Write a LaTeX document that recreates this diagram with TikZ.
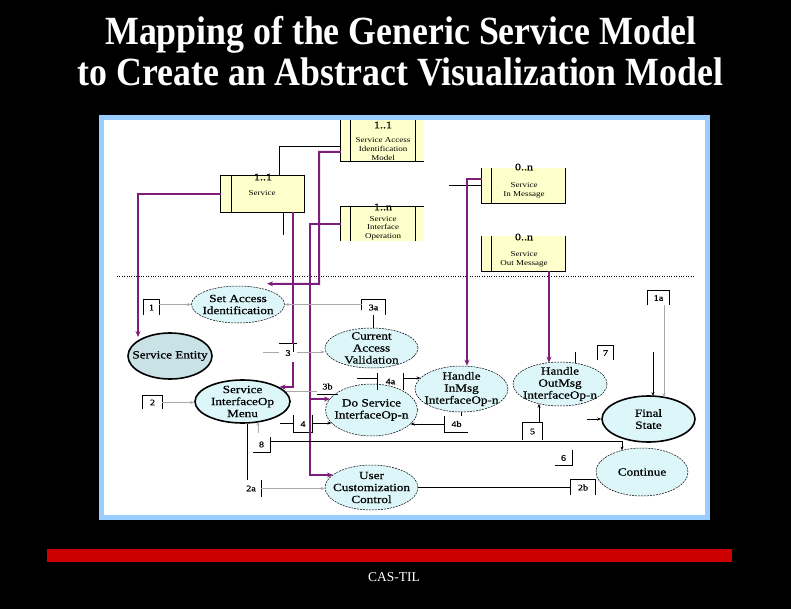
\documentclass[tikz,border=0pt]{standalone}
\usepackage{fontspec}
\setmainfont{Liberation Serif}
\newfontfamily\diafont[FakeStretch=1.2,FakeBold=0.7]{Liberation Serif}
\newfontfamily\boxfont[FakeStretch=1.2]{Liberation Serif}
\newfontfamily\titlefont[FakeStretch=0.895]{Liberation Serif}
\usetikzlibrary{positioning,calc,arrows.meta,shapes.geometric}
\definecolor{panelblue}{HTML}{99CCFF}
\definecolor{boxyellow}{HTML}{FFFFCC}
\definecolor{statecyan}{HTML}{DDF6F9}
\definecolor{entitycyan}{HTML}{C8E2E6}
\definecolor{mapviolet}{HTML}{7D1E7D}
\definecolor{transgray}{HTML}{A8A8A8}
\definecolor{barred}{HTML}{CC0000}
\tikzset{
  vstate/.style={ellipse, draw, dash pattern=on 2pt off 1pt, line width=0.5pt, fill=statecyan,
    inner xsep=-14pt, inner ysep=-5pt, align=center, font=\diafont\fontsize{11}{12}\selectfont},
  bigstate/.style={vstate, solid, line width=1.6pt},
  classbox/.style={rectangle, fill=boxyellow, inner sep=0pt},
  boxtext/.style={align=center, inner sep=0pt, font=\boxfont\fontsize{7.5}{8.6}\selectfont},
  mult/.style={inner sep=0pt, font=\diafont\fontsize{10}{10}\selectfont},
  tlabel/.style={inner sep=0pt, font=\diafont\fontsize{8.5}{9}\selectfont},
  link/.style={line width=0.7pt},
  grayarr/.style={transgray, line width=0.7pt, -{Stealth[length=4pt,width=3pt]}},
  blackarr/.style={line width=0.7pt, -{Stealth[length=4pt,width=3pt]}},
  maplink/.style={mapviolet, line width=2pt},
  maparr/.style={maplink, -{Stealth[length=6pt,width=5pt]}},
}
\begin{document}
\begin{tikzpicture}[x=1pt,y=-1pt]
  \useasboundingbox (0,0) rectangle (791,609);
  \fill[black] (0,0) rectangle (791,609);
  \fill[white] (99,115) rectangle (710,520);

  % title
  \node[text=white, anchor=base, font=\titlefont\bfseries\fontsize{40}{40}\selectfont] (title1) at (401,45) {Mapping of the Generic Service Model};
  \node[text=white, anchor=base, font=\titlefont\bfseries\fontsize{40}{40}\selectfont] (title2) at (400.5,86) {to Create an Abstract Visualization Model};

  % model boxes
  \node[classbox, minimum width=83, minimum height=43] (saim) at (382.5,139.5) {};
  \node[classbox, minimum width=83, minimum height=36] (svc) at (262.5,194) {};
  \node[classbox, minimum width=83, minimum height=34] (sio) at (382.5,224) {};
  \node[classbox, minimum width=83, minimum height=35] (sim) at (523.5,185.5) {};
  \node[classbox, minimum width=83, minimum height=35] (som) at (523.5,253.5) {};
  \draw[link] (saim.north west) -- (saim.south west) -- (saim.south east);
  \draw[link] ([xshift=10pt]saim.north west) -- ([xshift=10pt]saim.south west);
  \draw[link] ([xshift=-9pt]saim.north east) -- ([xshift=-9pt]saim.south east);
  \draw[link] (svc.north west) rectangle (svc.south east);
  \draw[link] ([xshift=11pt]svc.north west) -- ([xshift=11pt]svc.south west);
  \draw[link] (sio.south west) -- (sio.north west) -- (sio.north east);
  \draw[link] ([xshift=10pt]sio.north west) -- ([xshift=10pt]sio.south west);
  \draw[link] ([xshift=-9pt]sio.north east) -- ([xshift=-9pt]sio.south east);
  \draw[link] (sim.north west) -- (sim.south west) -- (sim.south east) -- (sim.north east);
  \draw[link] ([xshift=10pt]sim.north west) -- ([xshift=10pt]sim.south west);
  \draw[link] (som.north west) -- (som.south west) -- (som.south east) -- (som.north east);
  \draw[link] ([xshift=10pt]som.north west) -- ([xshift=10pt]som.south west);
  \node[boxtext] (saimtxt) at (383,149) {Service Access\\Identification\\Model};
  \node[boxtext] (svctxt) at (262,193) {Service};
  \node[boxtext] (siotxt) at (383,228) {Service\\Interface\\Operation};
  \node[boxtext] (simtxt) at (524,190.5) {Service\\In Message};
  \node[boxtext] (somtxt) at (524,259.5) {Service\\Out Message};
  \node[mult] (saimmult) at (383,125) {1..1};
  \node[mult] (svcmult) at (263,177) {1..1};
  \node[mult] (siomult) at (383,207) {1..n};
  \node[mult] (simmult) at (524,167) {0..n};
  \node[mult] (sommult) at (524,237) {0..n};

  \draw[dash pattern=on 0.8pt off 1.6pt, line width=0.8pt] (117,276) -- (695,276);

  % states
  \node[vstate, minimum width=93, minimum height=37] (sai) at (238,304.5) {Set Access\\Identification};
  \node[bigstate, fill=entitycyan, minimum width=84, minimum height=46] (ent) at (170,356) {Service Entity};
  \node[vstate, minimum width=93, minimum height=40] (cav) at (371.5,348) {Current\\Access\\Validation};
  \node[bigstate, minimum width=95, minimum height=43] (menu) at (242.5,401.5) {Service\\InterfaceOp\\Menu};
  \node[vstate, minimum width=92, minimum height=52] (dos) at (371.5,410) {Do Service\\InterfaceOp-n};
  \node[vstate, minimum width=93, minimum height=46] (hin) at (461.5,389) {Handle\\InMsg\\InterfaceOp-n};
  \node[vstate, minimum width=94, minimum height=44] (hout) at (560,384) {Handle\\OutMsg\\InterfaceOp-n};
  \node[bigstate, minimum width=93, minimum height=46] (fin) at (648.5,419) {Final\\State};
  \node[vstate, minimum width=92, minimum height=48] (cont) at (642,472) {Continue};
  \node[vstate, minimum width=93, minimum height=45] (ucc) at (371.5,487.5) {User\\Customization\\Control};

  % transition labels
  \node[tlabel, minimum width=15, minimum height=15] (l1) at (151.5,307.5) {1};
  \node[tlabel, minimum width=21, minimum height=14] (l1a) at (658.5,298) {1a};
  \node[tlabel, minimum width=19, minimum height=13] (l2) at (152.5,402.5) {2};
  \node[tlabel, minimum width=20, minimum height=17] (l2a) at (251,488.5) {2a};
  \node[tlabel, minimum width=24, minimum height=15] (l2b) at (583,487.5) {2b};
  \node[tlabel, minimum width=18, minimum height=18] (l3) at (288,353) {3};
  \node[tlabel, minimum width=23, minimum height=15] (l3a) at (373.5,307.5) {3a};
  \node[tlabel, minimum width=21, minimum height=15] (l3b) at (327.5,386.5) {3b};
  \node[tlabel, minimum width=18, minimum height=17] (l4) at (303,424) {4};
  \node[tlabel, minimum width=25, minimum height=17] (l4a) at (390.5,381.5) {4a};
  \node[tlabel, minimum width=23, minimum height=16] (l4b) at (456.5,424) {4b};
  \node[tlabel, minimum width=19, minimum height=17] (l5) at (532.5,431.5) {5};
  \node[tlabel, minimum width=17, minimum height=15] (l6) at (563.5,458) {6};
  \node[tlabel, minimum width=15, minimum height=14] (l7) at (605.5,353) {7};
  \node[tlabel, minimum width=17, minimum height=15] (l8) at (261.5,444.5) {8};
  \draw[link] (l1.south west) |- (l1.north east) -- (l1.south east);
  \draw[link] (l1a.south west) |- (l1a.north east) -- (l1a.south east);
  \draw[link] (l2.south west) |- (l2.north east) -- (l2.south east);
  \draw[link] (l2a.north east) -- (l2a.south east);
  \draw[link] (l2b.south west) |- (l2b.north east) -- (l2b.south east);
  \draw[link] (l3.north west) -- (l3.north east);
  \draw[link] ($(l3a.west)+(0,2.5)$) |- (l3a.north east) -- (l3a.south east);
  \draw[link] (l3b.south west) -- (l3b.south east);
  \draw[link] (l4.north west) -- (l4.south west) -- (l4.south east) -- (l4.north east);
  \draw[link] (l4a.north west) -- (l4a.south west);
  \draw[link] (l4a.north east) -- (l4a.south east);
  \draw[link] (l4b.north west) -- (l4b.south west) -- (l4b.south east);
  \draw[link] (l5.south west) |- (l5.north east) -- (l5.south east);
  \draw[link] (l6.north east) -- (l6.south east) -- (l6.south west);
  \draw[link] (l7.south west) |- (l7.north east) -- (l7.south east);
  \draw[link] (l8.north east) -- (l8.south east) -- (l8.south west);

  % free ends and bends
  \coordinate (svcdn) at ($(svc.south)+(30.5,0)$);
  \coordinate (p3) at (319,284);
  \coordinate (p4) at (310,475);
  \coordinate (p5) at (310,399);
  \coordinate (somdn) at ($(som.south)+(25.5,0)$);
  \coordinate (simin) at (449,185.5);
  \coordinate (l3in) at (263,352);
  \coordinate (l4in) at (280,423);
  \coordinate (l4ain) at (357,378);
  \coordinate (menu3b) at ($(menu.center)+(43,-10)$);
  \coordinate (menudn) at ($(menu.south)+(4.5,0)$);
  \coordinate (l8up) at ($(l8.north)+(-3.5,-4)$);
  \coordinate (l8out) at ($(l8.north east)+(0,5)$);
  \coordinate (fintop) at (653,352);
  \coordinate (finleft) at (587,419);

  % model links
  \draw[link] ($(svc.north)+(16.5,0)$) |- ($(saim.west)+(0,6.5)$);
  \draw[link] ($(svc.south)+(20.5,0)$) -- ++(0,23);
  \draw[link] (simin) -- (sim.west);
  \draw[maparr] (svc.west) -| ($(ent.center)+(-32,-19)$);
  \draw[maplink] (svcdn) -- (svcdn |- l3.north);
  \draw[link] (svcdn |- l3.north) -- ++(0,8);
  \draw[maparr] (svcdn |- l3.south) |- ($(menu.center)+(37,-14.5)$);
  \draw[maparr] ($(saim.west)+(0,12.5)$) -| (p3) -- ($(sai.north)+(29,-2)$);
  \draw[maparr] (sio.west) -| (p4) -- ($(ucc.center)+(-38.5,-12.5)$);
  \draw[maparr] (p5) -- ($(dos.center)+(-41.5,-11)$);
  \draw[maparr] ($(sim.west)+(0,-6.5)$) -| ($(hin.north)+(5.5,0)$);
  \draw[maparr] (somdn) -- ($(hout.center)+(-11,-21.4)$);

  % transitions
  \draw[grayarr] (l1.east |- sai.west) -- (sai.west);
  \draw[grayarr] (l3a.west |- sai.east) -- (sai.east);
  \draw[link] (l3a.south) -- (l3a.south |- cav.north);
  \draw[transgray, link] (l3in) -- (l3in -| l3.west);
  \draw[grayarr] (l3.east |- l3in) -- (l3in -| cav.west);
  \draw[grayarr] (l2.east) -- (l2.east -| menu.west);
  \draw[transgray, link] (menu3b) -- (menu3b -| l3b.west);
  \draw[link] (l4ain) -- (l4ain -| l4a.west);
  \draw[blackarr] (l4a.east |- l4ain) -- ($(hin.center)+(-41,-11)$);
  \draw[link] (l4in) -- (l4in -| l4.west);
  \draw[blackarr] (l4.east |- l4in) -- ($(dos.center)+(-40,13)$);
  \draw[link] (hin.south) -- (hin.south |- l4b.north);
  \draw[blackarr] (l4b.west) -- ($(dos.center)+(39,14)$);
  \draw[grayarr] (l8up) -- ($(menu.center)+(15.5,20.4)$);
  \draw[blackarr] (l8out) -| ($(cont.center)+(-20,-21.6)$);
  \draw[blackarr] ($(l5.north)+(6.5,0)$) -- ($(hout.center)+(-21,19.7)$);
  \draw[link] ($(hout.center)+(15,-20.8)$) -- ++(0,-11);
  \draw[grayarr] ($(l1a.south)+(5.5,0)$) -- ($(fin.center)+(15.5,-21.7)$);
  \draw[blackarr] (fintop) -- ($(fin.center)+(4.5,-22.9)$);
  \draw[blackarr] (finleft) -- (fin.west);
  \draw[link] (menudn) -- (menudn |- l2a.north);
  \draw[grayarr] (l2a.east) -- (l2a.east -| ucc.west);
  \draw[link] (ucc.east) -- (l2b.west);

  % frame and footer
  \draw[panelblue, line width=5pt] (101.5,117.5) rectangle (707.5,517.5);
  \fill[barred] (47,549) rectangle (732,562);
  \node[text=white, font=\fontsize{13.5}{14}\selectfont] (footer) at (394,577) {CAS-TIL};
\end{tikzpicture}
\end{document}
